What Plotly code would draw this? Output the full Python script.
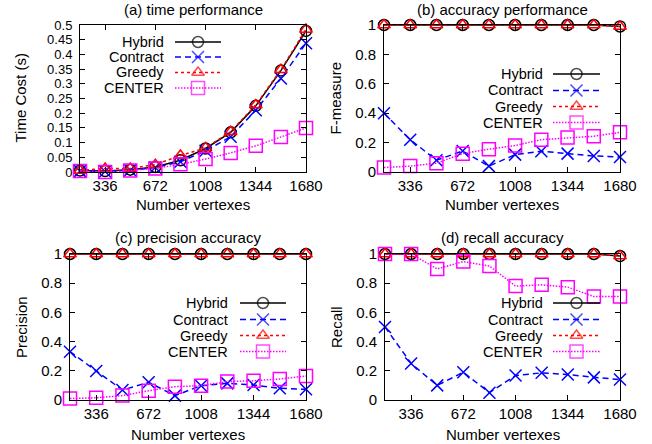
import plotly.graph_objects as go

vertices = [168, 336, 504, 672, 840, 1008, 1176, 1344, 1512, 1680]
x_ticks = [336, 672, 1008, 1344, 1680]

time_hybrid = [0.005, 0.003, 0.008, 0.017, 0.040, 0.080, 0.135, 0.225, 0.345, 0.480]
time_contract = [0.003, 0.002, 0.006, 0.015, 0.035, 0.072, 0.120, 0.210, 0.318, 0.438]
time_greedy = [0.005, 0.012, 0.012, 0.025, 0.056, 0.082, 0.137, 0.228, 0.348, 0.485]
time_center = [0.003, 0.000, 0.005, 0.012, 0.026, 0.044, 0.065, 0.089, 0.119, 0.150]

f_hybrid = [1, 1, 1, 1, 1, 1, 1, 1, 1, 0.99]
f_contract = [0.40, 0.22, 0.08, 0.143, 0.04, 0.118, 0.141, 0.125, 0.109, 0.102]
f_greedy = [1, 1, 1, 1, 1, 1, 1, 1, 1, 0.99]
f_center = [0.03, 0.04, 0.06, 0.125, 0.155, 0.18, 0.22, 0.234, 0.243, 0.27]

p_hybrid = [1, 1, 1, 1, 1, 1, 1, 1, 1, 1]
p_contract = [0.331, 0.199, 0.068, 0.121, 0.03, 0.098, 0.114, 0.103, 0.08, 0.073]
p_greedy = [1, 1, 1, 1, 1, 1, 1, 1, 1, 1]
p_center = [0.01, 0.015, 0.03, 0.064, 0.091, 0.098, 0.126, 0.132, 0.144, 0.164]

r_hybrid = [1, 1, 1, 1, 1, 1, 1, 1, 1, 0.986]
r_contract = [0.50, 0.25, 0.10, 0.19, 0.05, 0.168, 0.186, 0.175, 0.155, 0.14]
r_greedy = [1, 1, 1, 1, 1, 1, 1, 1, 1, 0.986]
r_center = [1.0, 1.0, 0.898, 0.948, 0.918, 0.78, 0.789, 0.773, 0.709, 0.709]

series_names = ["Hybrid", "Contract", "Greedy", "CENTER"]
panel_titles = ["(a) time performance", "(b) accuracy performance",
                "(c) precision accuracy", "(d) recall accuracy"]
y_titles = ["Time Cost (s)", "F-measure", "Precision", "Recall"]
x_title = "Number vertexes"
panel_data = [
    [time_hybrid, time_contract, time_greedy, time_center],
    [f_hybrid, f_contract, f_greedy, f_center],
    [p_hybrid, p_contract, p_greedy, p_center],
    [r_hybrid, r_contract, r_greedy, r_center],
]

W, H = 652, 444
FONT = "Liberation Sans, Arial, sans-serif"
FS = 15
LFS = 14.5


def px(xp):
    return xp / W


def py(yp):
    return 1 - yp / H


line_styles = [
    dict(color="#000000", width=1.5, dash="solid"),
    dict(color="#0000ff", width=1.5, dash="6px,4px"),
    dict(color="#ff0000", width=1.5, dash="3px,3px"),
    dict(color="#ff00ff", width=1.5, dash="1.5px,1.5px"),
]
marker_symbols = ["circle-open", "x-thin-open", "triangle-up-open", "square-open"]
marker_sizes = [11, 12, 11, 13]
colors = ["#000000", "#0000ff", "#ff0000", "#ff00ff"]

# plot-area boxes in page pixels (left, right, top, bottom)
boxes = [(80, 306, 25, 172), (384, 620, 25, 172), (70, 306, 254, 400), (385, 620, 254, 400)]
yranges = [[0, 0.5], [0, 1], [0, 1], [0, 1]]
ydticks = [0.05, 0.2, 0.2, 0.2]
ytick_sizes = [13, 15, 15, 15]
title_y = [10, 10, 237, 237]
ytitle_x = [20, 335, 21, 336]
xtitle_y = [204, 204, 434, 434]
legend_text_right = [166, 545, 230, 545]
legend_line = [(175, 221), (553, 600), (240, 286), (553, 600)]
legend_rows = [[42, 57, 72.5, 88], [74, 90.5, 106.5, 122.5], [303, 319.5, 335.5, 351.5], [303, 319.5, 335.5, 351.5]]

fig = go.Figure()
layout = {}
annotations = []
txt = dict(family=FONT, size=FS, color="black")
ltxt = dict(family=FONT, size=LFS, color="black")
for i in range(4):
    n = "" if i == 0 else str(i + 1)
    for j, name in enumerate(series_names):
        fig.add_trace(go.Scatter(
            x=vertices, y=panel_data[i][j], name=name, mode="lines+markers",
            xaxis="x" + n, yaxis="y" + n, showlegend=False,
            line=line_styles[j],
            marker=dict(symbol=marker_symbols[j], size=marker_sizes[j], color=colors[j],
                        line=dict(width=1.5, color=colors[j])),
            cliponaxis=False,
        ))
    l, r, t, b = boxes[i]
    axis_common = dict(showline=True, linecolor="black", linewidth=1, mirror="ticks",
                       ticks="inside", ticklen=5, tickwidth=1, tickcolor="black",
                       showgrid=False, zeroline=False, automargin=False)
    layout["xaxis" + n] = dict(axis_common, domain=[px(l), px(r)], range=[168, 1680],
                               tickvals=x_ticks, anchor="y" + n, ticklabelstandoff=0,
                               tickfont=dict(family=FONT, size=15, color="black"))
    layout["yaxis" + n] = dict(axis_common, domain=[py(b), py(t)], range=yranges[i],
                               dtick=ydticks[i], tick0=0, anchor="x" + n, ticklabelstandoff=4,
                               tickfont=dict(family=FONT, size=ytick_sizes[i], color="black"))
    annotations.append(dict(text=panel_titles[i], x=px((l + r) / 2), y=py(title_y[i]),
                            xref="paper", yref="paper", showarrow=False, font=txt,
                            xanchor="center", yanchor="middle"))
    annotations.append(dict(text=y_titles[i], x=px(ytitle_x[i]), y=py((t + b) / 2),
                            xref="paper", yref="paper", showarrow=False, font=txt, textangle=-90,
                            xanchor="center", yanchor="middle"))
    annotations.append(dict(text=x_title, x=px((l + r) / 2), y=py(xtitle_y[i]),
                            xref="paper", yref="paper", showarrow=False, font=txt,
                            xanchor="center", yanchor="middle"))
    # gnuplot-style key: text on the left, line sample with marker on the right
    x0, x1 = legend_line[i]
    for j, name in enumerate(series_names):
        ry = legend_rows[i][j]
        annotations.append(dict(text=name, x=px(legend_text_right[i]), y=py(ry),
                                xref="paper", yref="paper", showarrow=False, font=ltxt,
                                xanchor="right", yanchor="middle"))
        fig.add_trace(go.Scatter(
            x=[x0, (x0 + x1) / 2, x1], y=[ry, ry, ry], mode="lines+markers",
            xaxis="x5", yaxis="y5", showlegend=False, hoverinfo="skip",
            line=line_styles[j],
            marker=dict(symbol=marker_symbols[j], size=[0, marker_sizes[j], 0], color=colors[j],
                        line=dict(width=1.5, color=colors[j])),
            cliponaxis=False,
        ))

layout["xaxis5"] = dict(domain=[0, 1], range=[0, W], visible=False, anchor="y5", fixedrange=True)
layout["yaxis5"] = dict(domain=[0, 1], range=[H, 0], visible=False, anchor="x5", fixedrange=True)

fig.update_layout(**layout)
fig.update_layout(width=W, height=H, margin=dict(l=0, r=0, t=0, b=0, autoexpand=False),
                  paper_bgcolor="white", plot_bgcolor="rgba(0,0,0,0)",
                  annotations=annotations, showlegend=False, hovermode=False)
# remove the browser's default page margin so the figure sits at the page origin
fig.write_html("out.html", config={"displayModeBar": False, "staticPlot": True},
               post_script="document.body.style.margin='0px';")
